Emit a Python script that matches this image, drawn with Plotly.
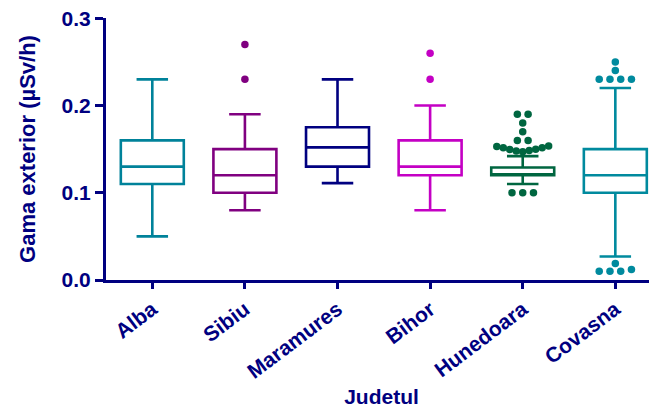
import plotly.graph_objects as go

categories = ["Alba", "Sibiu", "Maramures", "Bihor", "Hunedoara", "Covasna"]
colors = ["#00829A", "#800080", "#000080", "#C400C4", "#006640", "#008A9E"]

lower_whisker = [0.05, 0.08, 0.111, 0.08, 0.11, 0.027]
q1_vals = [0.11, 0.10, 0.13, 0.12, 0.12, 0.10]
median_vals = [0.13, 0.12, 0.152, 0.13, 0.12, 0.12]
q3_vals = [0.16, 0.15, 0.175, 0.16, 0.129, 0.15]
upper_whisker = [0.23, 0.19, 0.23, 0.20, 0.142, 0.22]

outliers = {
    "Alba": [],
    "Sibiu": [0.27, 0.23],
    "Maramures": [],
    "Bihor": [0.26, 0.23],
    "Hunedoara": [0.19, 0.19, 0.18, 0.17, 0.16, 0.16,
                  0.153, 0.1515, 0.1495, 0.148, 0.147, 0.1485, 0.150, 0.1515, 0.1535,
                  0.10, 0.10, 0.10],
    "Covasna": [0.25, 0.24, 0.23, 0.23, 0.23, 0.23,
                0.019, 0.01, 0.01, 0.01, 0.012],
}

yticks = [0.0, 0.1, 0.2, 0.3]
ytick_text = ["0.0", "0.1", "0.2", "0.3"]

NAVY = "#000080"
FONT = "Liberation Sans, Arial, sans-serif"


def spread(values, center):
    groups = {}
    order = []
    for v in values:
        key = round(v, 2)
        if key not in groups:
            groups[key] = []
            order.append(key)
        groups[key].append(v)
    xs, ys = [], []
    for key in order:
        g = groups[key]
        n = len(g)
        s = min(0.116, 0.56 / (n - 1)) if n > 1 else 0
        for k, v in enumerate(g):
            xs.append(center + (k - (n - 1) / 2) * s)
            ys.append(v)
    return xs, ys


fig = go.Figure()
for i, cat in enumerate(categories):
    fig.add_trace(go.Box(
        x=[i], q1=[q1_vals[i]], median=[median_vals[i]], q3=[q3_vals[i]],
        lowerfence=[lower_whisker[i]], upperfence=[upper_whisker[i]],
        boxpoints=False, width=0.68, whiskerwidth=0.5,
        line=dict(color=colors[i], width=2.6),
        fillcolor="rgba(255,255,255,0)",
        name=cat, showlegend=False,
    ))
    if outliers[cat]:
        xs, ys = spread(outliers[cat], i)
        fig.add_trace(go.Scatter(
            x=xs, y=ys, mode="markers",
            marker=dict(color=colors[i], size=7.5, line=dict(width=0)),
            showlegend=False, hoverinfo="y",
        ))

fig.update_layout(
    width=649, height=402,
    margin=dict(l=98, r=0, t=10, b=130),
    paper_bgcolor="white", plot_bgcolor="white",
    font=dict(family=FONT, color=NAVY),
    xaxis=dict(
        range=[-0.5, 5.45],
        tickmode="array", tickvals=list(range(len(categories))), ticktext=categories,
        tickangle=-37,
        tickfont=dict(size=21, color=NAVY, family=FONT, weight="bold"),
        showline=True, linecolor=NAVY, linewidth=3,
        ticks="outside", ticklen=6, tickwidth=3, tickcolor=NAVY,
        showgrid=False, zeroline=False, automargin=False,
        title=dict(text="Judetul", font=dict(size=21, color=NAVY, family=FONT, weight="bold"),
                   standoff=8),
    ),
    yaxis=dict(
        range=[0, 0.3003],
        tickmode="array", tickvals=yticks, ticktext=ytick_text,
        tickfont=dict(size=21, color=NAVY, family=FONT, weight="bold"),
        showline=True, linecolor=NAVY, linewidth=3,
        ticks="outside", ticklen=8, tickwidth=3, tickcolor=NAVY,
        showgrid=False, zeroline=False, automargin=False,
        ticklabeloverflow="allow",
        title=dict(text="Gama exterior (µSv/h)",
                   font=dict(size=22, color=NAVY, family=FONT, weight="bold"),
                   standoff=20),
    ),
)

fig.write_html("out.html")
